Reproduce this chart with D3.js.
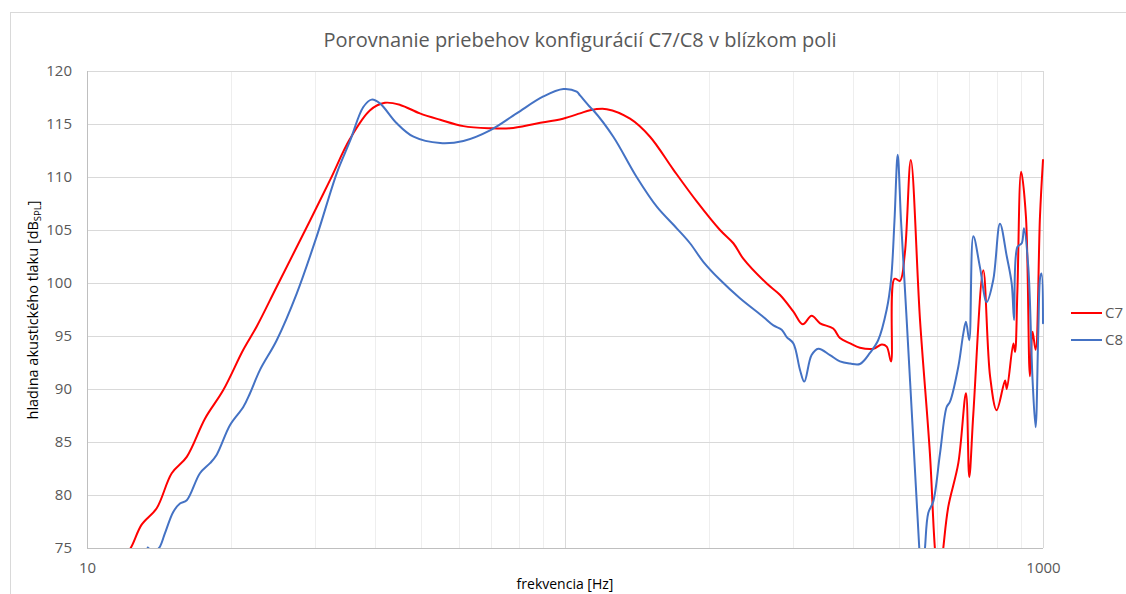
<!DOCTYPE html>
<html>
<head>
<meta charset="utf-8">
<script src="https://cdn.jsdelivr.net/npm/d3@7"></script>
<style>
  html, body { margin: 0; padding: 0; background: #fff; }
  svg { display: block; font-family: "Open Sans", Lato, sans-serif; }
</style>
</head>
<body>
<svg id="chart" width="1126" height="594"></svg>
<script>
// ---- data ----
const title = "Porovnanie priebehov konfigurácií C7/C8 v blízkom poli";
const xLabel = "frekvencia [Hz]";
const yLabelMain = "hladina akustického tlaku [dB";
const yLabelSub = "SPL";
const seriesNames = ["C7", "C8"];
const xTicks = [10, 100, 1000];          // major grid decades
const xTickLabels = [10, 1000];          // the "100" label is hidden behind the axis title in the reference
const yTicks = [75, 80, 85, 90, 95, 100, 105, 110, 115, 120];

const c7Freq = [12.0, 12.34, 13.01, 13.99, 15.04, 16.17, 17.65, 19.28, 21.23, 22.65, 24.94, 29.29, 32.24, 35.5, 39.1, 42.0, 45.2, 49.7, 54.8, 61.3, 69.7, 76.7, 87.3, 99, 107.5, 112.8, 122.3, 136.8, 150.6, 168.5, 188.6, 211, 225, 236, 264, 281.8, 300.5, 314.3, 328, 341.7, 364, 376, 395, 414, 442, 460, 471, 481, 489, 502, 514, 529, 553, 580, 594, 606, 618.6, 633.7, 665, 690, 701, 715, 750, 775, 800, 833, 840, 867, 874, 884, 900, 921, 939, 951, 965, 985.6, 1000];
const c7Db   = [74.4, 75.0, 77.2, 78.75, 82.05, 83.6, 87.2, 89.9, 93.7, 95.9, 99.65, 105.9, 109.7, 113.6, 116.3, 117.0, 116.8, 116.0, 115.4, 114.8, 114.6, 114.6, 115.05, 115.5, 116.0, 116.3, 116.4, 115.5, 113.8, 110.7, 107.7, 105.0, 103.75, 102.3, 99.97, 98.87, 97.3, 96.1, 96.9, 96.2, 95.7, 94.8, 94.3, 93.9, 93.8, 94.2, 94.0, 92.6, 100.4, 100.2, 102.8, 111.6, 96.5, 83.9, 75.0, 71.0, 75.0, 78.9, 83.0, 89.6, 81.7, 87.7, 101.2, 91.2, 88.0, 90.8, 90.0, 94.3, 93.5, 99.3, 110.5, 106.3, 91.2, 95.4, 93.7, 106.3, 111.6];

const c8Freq = [13.4, 13.8, 14.15, 14.56, 15.15, 15.65, 16.17, 17.23, 18.09, 18.68, 19.92, 21.23, 21.93, 23.01, 24.94, 27.46, 30.24, 33.3, 35.5, 37.85, 39.4, 41.0, 44.4, 48.2, 54.8, 61.3, 69.7, 79.2, 90.1, 99.2, 105.8, 107.5, 112.8, 114.6, 126.2, 141.2, 155.6, 171.3, 182.6, 194.7, 211, 232.3, 260, 272.9, 284, 291, 300.5, 310.2, 316.7, 328, 338.8, 358.4, 376, 395, 414, 434.5, 452, 471, 481, 489, 496.6, 504.6, 518.6, 535.4, 551, 558, 566.4, 575.4, 589.5, 608.8, 628.7, 638.9, 665, 681.3, 690, 701, 715, 738, 762.5, 787, 812.8, 840, 860, 870, 884, 902.6, 912.6, 931.6, 951, 965, 977.7, 987, 993, 1000];
const c8Db   = [75.05, 74.7, 75.0, 76.4, 78.4, 79.2, 79.5, 82.05, 83.0, 83.8, 86.6, 88.3, 89.6, 91.8, 94.6, 99.0, 104.4, 110.35, 113.4, 116.6, 117.3, 116.95, 115.1, 113.8, 113.2, 113.4, 114.4, 116.0, 117.6, 118.3, 118.05, 117.7, 116.6, 116.3, 113.8, 110.0, 107.2, 105.16, 103.75, 102.0, 100.3, 98.56, 96.8, 96.0, 95.6, 94.9, 94.3, 91.8, 90.7, 93.2, 93.8, 93.2, 92.6, 92.4, 92.36, 93.4, 94.6, 97.5, 100.3, 105.9, 112.1, 105.9, 96.5, 85.2, 75.0, 71.0, 75.0, 78.3, 79.4, 83.9, 88.3, 88.8, 92.1, 95.25, 96.35, 94.6, 104.4, 101.5, 98.2, 100.3, 105.6, 102.5, 99.97, 96.5, 103.4, 103.75, 105.16, 101.5, 90.85, 86.4, 95.5, 100.6, 100.9, 96.2];

const colors = ["#ff0000", "#4472c4"];

// ---- layout ----
const W = 1126, H = 594;
const plot = { left: 87, top: 71, right: 1043, bottom: 548 };
const svg = d3.select("#chart");

svg.append("rect").attr("x", 10.5).attr("y", 12.5).attr("width", 1130).attr("height", 620)
  .attr("fill", "#fff").attr("stroke", "#d9d9d9").attr("stroke-width", 1);

const x = d3.scaleLog().domain([10, 1000]).range([plot.left, plot.right]);
const y = d3.scaleLinear().domain([75, 120]).range([plot.bottom, plot.top]);

// minor vertical grid
const minor = [];
[10, 100].forEach(d => { for (let k = 2; k <= 9; k++) minor.push(d * k); });
svg.append("g").selectAll("line").data(minor).join("line")
  .attr("x1", d => Math.round(x(d)) + 0.5).attr("x2", d => Math.round(x(d)) + 0.5)
  .attr("y1", plot.top).attr("y2", plot.bottom)
  .attr("stroke", "#eeeeee").attr("stroke-width", 1);

// major vertical grid
svg.append("g").selectAll("line").data(xTicks.slice(1)).join("line")
  .attr("x1", d => Math.round(x(d)) + 0.5).attr("x2", d => Math.round(x(d)) + 0.5)
  .attr("y1", plot.top).attr("y2", plot.bottom)
  .attr("stroke", "#d9d9d9").attr("stroke-width", 1);

// horizontal grid
svg.append("g").selectAll("line").data(yTicks.slice(1)).join("line")
  .attr("x1", plot.left).attr("x2", plot.right)
  .attr("y1", d => Math.round(y(d)) + 0.5).attr("y2", d => Math.round(y(d)) + 0.5)
  .attr("stroke", "#d9d9d9").attr("stroke-width", 1);

// axes lines
svg.append("line").attr("x1", plot.left).attr("x2", plot.right)
  .attr("y1", Math.round(plot.bottom) + 0.5).attr("y2", Math.round(plot.bottom) + 0.5)
  .attr("stroke", "#bfbfbf");
svg.append("line").attr("x1", plot.left + 0.5).attr("x2", plot.left + 0.5)
  .attr("y1", plot.top).attr("y2", plot.bottom).attr("stroke", "#bfbfbf");

// y tick labels via axis
const yAxis = svg.append("g").attr("transform", `translate(${plot.left},0)`)
  .call(d3.axisLeft(y).tickValues(yTicks).tickSize(0).tickPadding(15));
yAxis.select(".domain").remove();
yAxis.selectAll("text").attr("fill", "#595959").style("font-size", "15px")
  .style("font-family", "'Open Sans', Lato, sans-serif");

// x tick labels
const xAxis = svg.append("g").attr("transform", `translate(0,${plot.bottom})`)
  .call(d3.axisBottom(x).tickValues(xTickLabels).tickFormat(d3.format("d")).tickSize(0).tickPadding(14));
xAxis.select(".domain").remove();
xAxis.selectAll("text").attr("fill", "#595959").style("font-size", "15px")
  .style("font-family", "'Open Sans', Lato, sans-serif");

// clip
svg.append("clipPath").attr("id", "clip").append("rect")
  .attr("x", plot.left).attr("y", plot.top)
  .attr("width", plot.right - plot.left + 1).attr("height", plot.bottom - plot.top);

const line = d3.line().x(d => x(d[0])).y(d => y(d[1])).curve(d3.curveCatmullRom.alpha(0.5));
const series = [
  c7Freq.map((f, i) => [f, c7Db[i]]),
  c8Freq.map((f, i) => [f, c8Db[i]])
];
const g = svg.append("g").attr("clip-path", "url(#clip)");
series.forEach((s, i) => {
  g.append("path").datum(s).attr("d", line)
    .attr("fill", "none").attr("stroke", colors[i]).attr("stroke-width", 2)
    .attr("stroke-linejoin", "round").attr("stroke-linecap", "round");
});

// title
svg.append("text").attr("x", 580).attr("y", 47).attr("text-anchor", "middle")
  .attr("fill", "#595959").style("font-size", "20px").text(title);

// x label
svg.append("text").attr("x", 565).attr("y", 589).attr("text-anchor", "middle")
  .attr("fill", "#000").style("font-size", "14px").text(xLabel);

// y label
const yl = svg.append("text").attr("transform", "translate(38,310) rotate(-90)")
  .attr("text-anchor", "middle").attr("fill", "#000").style("font-size", "14.5px");
yl.append("tspan").text(yLabelMain);
yl.append("tspan").attr("dy", 3).style("font-size", "9.5px").text(yLabelSub);
yl.append("tspan").attr("dy", -3).text("]");

// legend
const leg = svg.append("g");
seriesNames.forEach((n, i) => {
  const ly = 313 + i * 27;
  leg.append("line").attr("x1", 1071).attr("x2", 1102).attr("y1", ly).attr("y2", ly)
    .attr("stroke", colors[i]).attr("stroke-width", 2);
  leg.append("text").attr("x", 1105).attr("y", ly).attr("dy", "0.35em")
    .attr("fill", "#595959").style("font-size", "15px").text(n);
});
</script>
</body>
</html>
